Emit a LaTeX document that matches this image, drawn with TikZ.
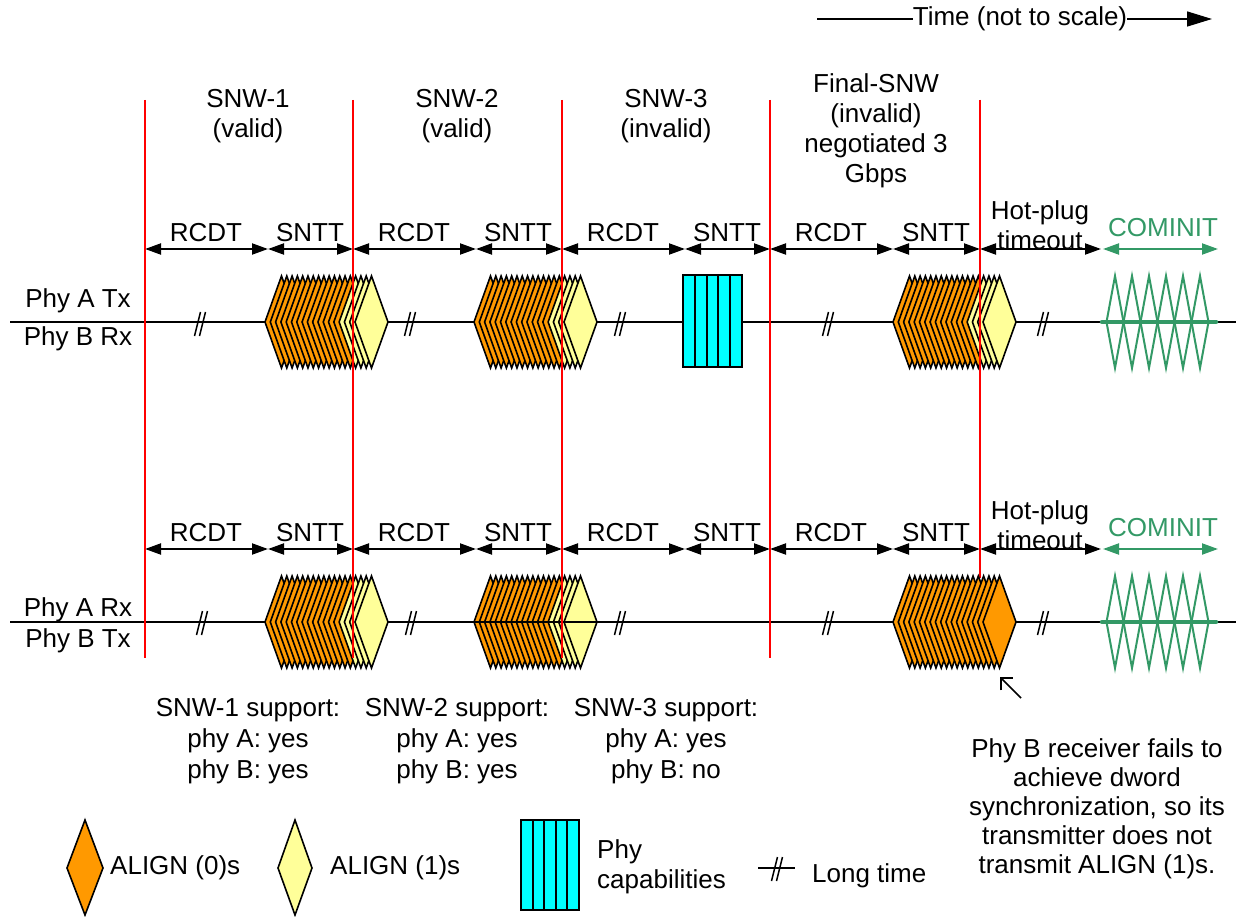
\documentclass[tikz,border=0pt]{standalone}
\usepackage{fontspec}
\setmainfont{Liberation Sans}
\usetikzlibrary{arrows.meta}
\definecolor{aorange}{HTML}{FF9900}
\definecolor{ayellow}{HTML}{FFFF99}
\definecolor{cgreen}{HTML}{339966}
\definecolor{pcyan}{HTML}{00FFFF}
\newcommand\mydiam[3]{\filldraw[dia,fill=#3] (#1,#2) -- ++(16.5,-46) -- ++(16.5,46) -- ++(-16.5,46) -- cycle;}
\newcommand\stackY[2]{%
  \foreach \i [evaluate=\i as \xx using #1+\i*5.294] in {0,...,13} {\mydiam{\xx}{#2}{aorange}}
  \foreach \i [evaluate=\i as \xx using #1+\i*5.294] in {14,...,17} {\mydiam{\xx}{#2}{ayellow}}}
\newcommand\stackO[2]{%
  \foreach \i [evaluate=\i as \xx using #1+\i*5.294] in {0,...,17} {\mydiam{\xx}{#2}{aorange}}}
\newcommand\longt[2]{%
  \draw[ltime] (#1-5.5,#2+12) -- (#1+0.5,#2-12);
  \draw[ltime] (#1-0.5,#2+12) -- (#1+5.5,#2-12);}
\newcommand\phycap[4]{% x0 y0 x1 y1
  \filldraw[fill=pcyan,draw=black,line width=2pt] (#1,#2) rectangle (#3,#4);
  \foreach \k in {1,...,4} {\draw[line width=2pt] ({#1+\k*(#3-#1)/5},#2) -- ({#1+\k*(#3-#1)/5},#4);}}
\newcommand\cominit[1]{%
  \foreach \k in {0,...,5} {\draw[cgreen,line width=2pt,line join=miter] ({1106.5+17*\k},#1) -- ({1115+17*\k},#1-46) -- ({1123.5+17*\k},#1) -- ({1115+17*\k},#1+46) -- cycle;}
  \draw[cgreen,line width=4.5pt,line cap=round] (1102,#1) -- (1216,#1);}
\begin{document}
\begin{tikzpicture}[x=1pt,y=-1pt,
  txt/.style={font=\fontsize{26}{30}\selectfont,inner sep=0pt,align=center},
  dim/.style={line width=2pt,{Triangle[length=16pt,width=11pt]}-{Triangle[length=16pt,width=11pt]}},
  gdim/.style={dim,cgreen},
  sig/.style={line width=2pt},
  redline/.style={red,line width=2pt},
  dia/.style={draw=black,line width=1.6pt,line join=miter},
  ltime/.style={line width=1.5pt}]
\path[use as bounding box] (0,0) rectangle (1236,917);

% title
\node[txt] (title) at (1020,19) {Time (not to scale)};
\coordinate (tl) at (817,19);
\coordinate (tr) at (1212,19);
\draw[line width=1.5pt] (tl) -- (title.west);
\draw[line width=1.5pt,-{Triangle[length=25pt,width=15pt]}] (title.east) -- (tr);

% SNW labels
\node[txt,anchor=north] (snw1) at (248,89) {SNW-1\\(valid)};
\node[txt,anchor=north] (snw2) at (457,89) {SNW-2\\(valid)};
\node[txt,anchor=north] (snw3) at (666,89) {SNW-3\\(invalid)};
\node[txt,anchor=north] (snwf) at (876,73) {Final-SNW\\(invalid)\\negotiated 3\\Gbps};

% signal lines
\coordinate (sa0) at (10,322); \coordinate (sa1) at (1236,322);
\coordinate (sb0) at (10,622); \coordinate (sb1) at (1236,622);
\draw[sig] (sa0) -- (sa1);
\draw[sig] (sb0) -- (sb1);

% phy labels
\node[txt] (patx) at (78,301) {Phy A Tx};
\node[txt] (pbrx) at (78,339) {Phy B Rx};
\node[txt] (parx) at (78,610) {Phy A Rx};
\node[txt] (pbtx) at (78,641) {Phy B Tx};

% dimension arrows, two rows
\foreach \r/\yy in {a/249,b/549} {
  \foreach \n/\xx in {0/145,1/268,2/353,3/476,4/562,5/685,6/770,7/893,8/980,9/1101,10/1103,11/1218} {
    \coordinate (\r\n) at (\xx,\yy);
  }
  \draw[dim] (\r0) -- (\r1);
  \draw[dim] (\r1) -- (\r2);
  \draw[dim] (\r2) -- (\r3);
  \draw[dim] (\r3) -- (\r4);
  \draw[dim] (\r4) -- (\r5);
  \draw[dim] (\r5) -- (\r6);
  \draw[dim] (\r6) -- (\r7);
  \draw[dim] (\r7) -- (\r8);
  \draw[dim] (\r8) -- (\r9);
  \draw[gdim] (\r10) -- (\r11);
}
\foreach \r/\yy in {a/233,b/533} {
  \node[txt] (\r l1) at (206,\yy) {RCDT};
  \node[txt] (\r l2) at (310,\yy) {SNTT};
  \node[txt] (\r l3) at (414,\yy) {RCDT};
  \node[txt] (\r l4) at (518,\yy) {SNTT};
  \node[txt] (\r l5) at (623,\yy) {RCDT};
  \node[txt] (\r l6) at (727,\yy) {SNTT};
  \node[txt] (\r l7) at (831,\yy) {RCDT};
  \node[txt] (\r l8) at (936,\yy) {SNTT};
  \node[txt,text=cgreen] (\r l10) at (1163,{\yy-5}) {COMINIT};
}
\node[txt,anchor=north] (ahp) at (1040,200) {Hot-plug\\timeout};
\node[txt,anchor=north] (bhp) at (1040,500) {Hot-plug\\timeout};

% stacks
\stackY{265}{322}
\stackY{474}{322}
\stackY{893}{322}
\stackY{265}{622}
\stackY{474}{622}
\draw[sig] (474,622) -- (597,622);
\draw[redline] (980,100) -- (980,578);
\stackO{893}{622}

% phy capabilities
\phycap{683}{275}{742}{367}

% COMINIT waveforms
\cominit{322}
\cominit{622}

% red lines
\foreach \xx in {145,353,562,770} {\draw[redline] (\xx,100) -- (\xx,658);}
\draw[redline] (980,100) -- (980,370);

% long time marks
\foreach \xx in {200,410,620,828,1043} {\longt{\xx}{324}}
\foreach \xx in {202,411,620,828,1043} {\longt{\xx}{623}}

% support texts
\node[txt,anchor=north,font=\fontsize{26}{31}\selectfont] (sup1) at (248,698) {SNW-1 support:\\phy A: yes\\phy B: yes};
\node[txt,anchor=north,font=\fontsize{26}{31}\selectfont] (sup2) at (457,698) {SNW-2 support:\\phy A: yes\\phy B: yes};
\node[txt,anchor=north,font=\fontsize{26}{31}\selectfont] (sup3) at (666,698) {SNW-3 support:\\phy A: yes\\phy B: no};

% note
\node[txt,anchor=north,font=\fontsize{26}{29}\selectfont] (note) at (1097,738) {Phy B receiver fails to\\achieve dword\\synchronization, so its\\transmitter does not\\transmit ALIGN (1)s.};
\coordinate (ar1) at (1021,698);
\coordinate (ar0) at (1000,677);
\draw[line width=1.5pt,-{Straight Barb[length=9pt,width=18pt]}] (ar1) -- (ar0);

% legend
\filldraw[dia,fill=aorange] (67,868) -- (85,820) -- (103,868) -- (85,915) -- cycle;
\node[txt,anchor=west] (l0) at (110,868) {ALIGN (0)s};
\filldraw[dia,fill=ayellow] (278,868) -- (295,820) -- (312,868) -- (295,915) -- cycle;
\node[txt,anchor=west] (l1) at (330,868) {ALIGN (1)s};
\phycap{521}{820}{579}{910}
\node[txt,anchor=west,align=left] (l2) at (597,867) {Phy\\capabilities};
\coordinate (lt0) at (758,868); \coordinate (lt1) at (795,868);
\draw[line width=1.5pt] (lt0) -- (lt1);
\longt{777}{869}
\node[txt,anchor=west] (l3) at (812,876) {Long time};
\end{tikzpicture}
\end{document}
